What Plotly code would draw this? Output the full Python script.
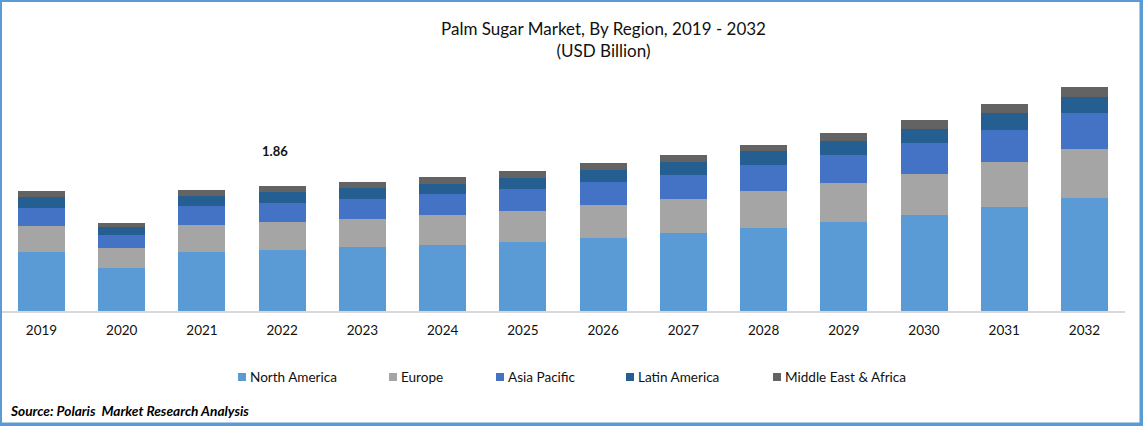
import plotly.graph_objects as go

W, H = 1143, 426
FONT = "Lato"

years = ["2019","2020","2021","2022","2023","2024","2025","2026","2027","2028","2029","2030","2031","2032"]
north_america = [0.88,0.64,0.88,0.91,0.95,0.98,1.03,1.09,1.16,1.24,1.32,1.43,1.55,1.68]
europe = [0.39,0.30,0.40,0.42,0.42,0.45,0.46,0.49,0.51,0.54,0.58,0.61,0.67,0.73]
asia_pacific = [0.27,0.19,0.28,0.28,0.30,0.31,0.33,0.34,0.36,0.39,0.42,0.46,0.48,0.54]
latin_america = [0.16,0.12,0.15,0.16,0.16,0.15,0.16,0.18,0.19,0.21,0.21,0.21,0.24,0.24]
mea = [0.09,0.06,0.09,0.09,0.09,0.10,0.10,0.10,0.10,0.09,0.12,0.13,0.14,0.15]

series_names = ["North America","Europe","Asia Pacific","Latin America","Middle East & Africa"]
series_values = [north_america, europe, asia_pacific, latin_america, mea]
series_colors = ["#5B9BD5","#A5A5A5","#4472C4","#255E91","#636363"]
legend_left = [238, 389, 496, 626, 773]

fig = go.Figure()
for n, v, c in zip(series_names, series_values, series_colors):
    fig.add_bar(x=years, y=v, name=n, marker=dict(color=c, line_width=0), showlegend=False)

fx = lambda x: x / W
fy = lambda y: 1 - y / H
shapes = [
    dict(type="rect", xref="paper", yref="paper", x0=0, x1=fx(1141.5), y0=fy(424.5), y1=1, layer="above",
         line=dict(color="#5B9BD5", width=4), fillcolor="rgba(0,0,0,0)"),
]
annotations = [
    dict(text="Palm Sugar Market, By Region, 2019 - 2032<br>(USD Billion)", xref="paper", yref="paper",
         x=fx(603), y=fy(16), xanchor="center", yanchor="top", showarrow=False, align="center",
         font=dict(size=17, color="#111111", family=FONT)),
    dict(text="<b>1.86</b>", x=years.index("2022"), y=1.86, xref="x", yref="y", xshift=-7.5, yshift=35,
         xanchor="center", yanchor="middle", showarrow=False, font=dict(size=13, color="#111111", family=FONT)),
    dict(text="<b><i>Source: Polaris  Market Research Analysis</i></b>", xref="paper", yref="paper",
         x=fx(7.5), y=fy(410), xanchor="left", yanchor="middle", showarrow=False,
         font=dict(size=13.7, color="#000000", family=FONT)),
]
for n, c, l in zip(series_names, series_colors, legend_left):
    shapes.append(dict(type="rect", xref="paper", yref="paper", x0=fx(l), x1=fx(l + 8),
                       y0=fy(381), y1=fy(373), fillcolor=c, line_width=0))
    annotations.append(dict(text=n, xref="paper", yref="paper", x=fx(l + 10), y=fy(376.5),
                            xanchor="left", yanchor="middle", showarrow=False,
                            font=dict(size=13.55, color="#111111", family=FONT)))

fig.update_layout(
    width=W, height=H, margin=dict(l=0, r=0, t=0, b=0, autoexpand=False), barmode="stack", bargap=0.414,
    paper_bgcolor="white", plot_bgcolor="white", shapes=shapes, annotations=annotations,
    font=dict(family=FONT, size=14, color="#111111"),
    xaxis=dict(type="category", domain=[fx(1.4), fx(1124.6)], range=[-0.5, 13.5], automargin=False,
               showline=True, linecolor="#D9D9D9", linewidth=1.5, ticks="", showgrid=False,
               tickfont=dict(size=13.5, color="#111111"), ticklabelstandoff=6),
    yaxis=dict(range=[0, 3.586], domain=[fy(311), fy(70)], visible=False, automargin=False),
)
fig.write_html("out.html", config=dict(displayModeBar=False),
               post_script="document.body.style.margin='0';document.body.style.overflow='hidden';")
